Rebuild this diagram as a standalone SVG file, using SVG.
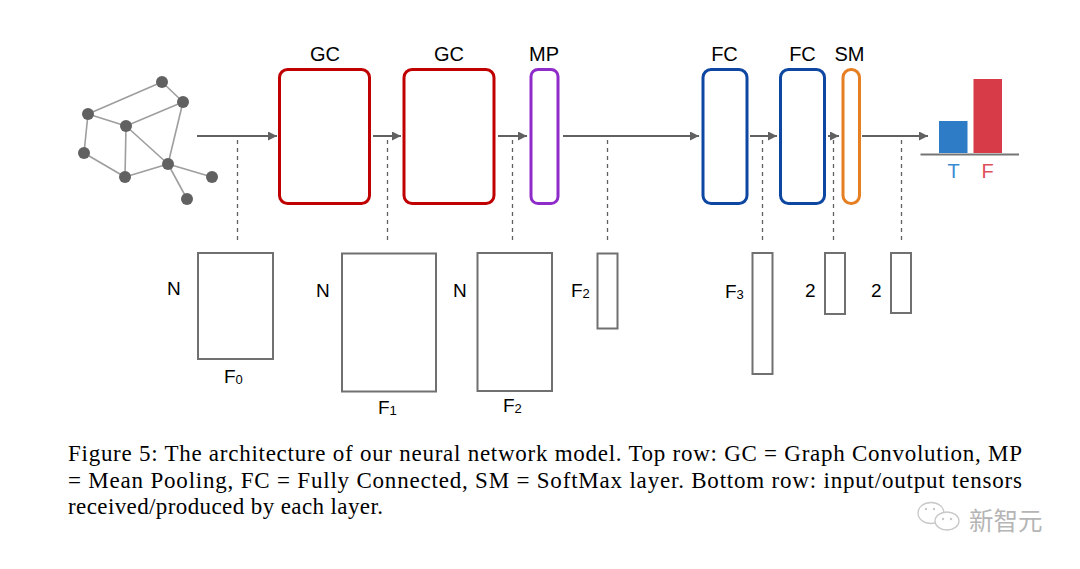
<svg xmlns="http://www.w3.org/2000/svg" width="1080" height="569" viewBox="0 0 1080 569">
<defs>
<marker id="ah" viewBox="0 0 10 10" refX="10" refY="5" markerWidth="9" markerHeight="9" markerUnits="userSpaceOnUse" orient="auto">
<path d="M0,0 L10,5 L0,10 z" fill="#616161"/>
</marker>
<style>
.lbl{font-family:"Liberation Sans",Arial,sans-serif;font-size:20px;fill:#000;text-anchor:middle}
.dim{font-family:"Liberation Sans",Arial,sans-serif;font-size:19px;fill:#000}
.sub{font-size:13px}
.cap{font-family:"Liberation Serif","Times New Roman",serif;font-size:23px;fill:#000}
.flow{stroke:#616161;stroke-width:2;fill:none;marker-end:url(#ah)}
.dash{stroke:#616161;stroke-width:1.3;stroke-dasharray:4,4;fill:none}
.tensor{fill:none;stroke:#707070;stroke-width:2}
.edge{stroke:#9e9e9e;stroke-width:1.6}
.gn{fill:#616161}
.gc{fill:#fff;stroke:#c00000;stroke-width:3}
.mp{fill:#fff;stroke:#8e2bc9;stroke-width:3}
.fc{fill:#fff;stroke:#0d47a1;stroke-width:3}
.sm{fill:#fff;stroke:#e67e22;stroke-width:3}
</style>
</defs>
<rect width="1080" height="569" fill="#fff"/>

<g id="input-graph">
<g class="edge">
<line x1="162" y1="82" x2="88" y2="114"/>
<line x1="162" y1="82" x2="183" y2="102"/>
<line x1="88" y1="114" x2="126" y2="126"/>
<line x1="126" y1="126" x2="183" y2="102"/>
<line x1="88" y1="114" x2="84" y2="153"/>
<line x1="84" y1="153" x2="125" y2="177"/>
<line x1="126" y1="126" x2="125" y2="177"/>
<line x1="126" y1="126" x2="168" y2="164"/>
<line x1="183" y1="102" x2="168" y2="164"/>
<line x1="125" y1="177" x2="168" y2="164"/>
<line x1="168" y1="164" x2="212" y2="177"/>
<line x1="168" y1="164" x2="187" y2="199"/>
</g>
<g class="gn">
<circle cx="162" cy="82" r="6"/>
<circle cx="183" cy="102" r="6"/>
<circle cx="88" cy="114" r="6"/>
<circle cx="126" cy="126" r="6"/>
<circle cx="84" cy="153" r="6"/>
<circle cx="125" cy="177" r="6"/>
<circle cx="168" cy="164" r="6"/>
<circle cx="212" cy="177" r="6"/>
<circle cx="187" cy="199" r="6"/>
</g>
</g>

<g id="connectors">
<line class="flow" x1="197" y1="136" x2="277" y2="136"/>
<line class="flow" x1="373" y1="136" x2="401" y2="136"/>
<line class="flow" x1="498" y1="136" x2="527" y2="136"/>
<line class="flow" x1="563" y1="136" x2="699" y2="136"/>
<line class="flow" x1="750" y1="136" x2="777" y2="136"/>
<line class="flow" x1="828" y1="136" x2="839" y2="136"/>
<line class="flow" x1="862" y1="136" x2="928" y2="136"/>
<line class="dash" x1="237.5" y1="140" x2="237.5" y2="240"/>
<line class="dash" x1="387.5" y1="140" x2="387.5" y2="240"/>
<line class="dash" x1="512.5" y1="140" x2="512.5" y2="240"/>
<line class="dash" x1="607.5" y1="140" x2="607.5" y2="240"/>
<line class="dash" x1="762.5" y1="140" x2="762.5" y2="240"/>
<line class="dash" x1="833.5" y1="140" x2="833.5" y2="240"/>
<line class="dash" x1="901.5" y1="140" x2="901.5" y2="240"/>
</g>

<g id="gc1"><rect class="gc" x="279.5" y="69.5" width="90" height="134" rx="8"/><text class="lbl" x="325" y="61">GC</text></g>
<g id="gc2"><rect class="gc" x="404" y="69.5" width="90" height="134" rx="8"/><text class="lbl" x="449" y="61">GC</text></g>
<g id="mp"><rect class="mp" x="531" y="69.5" width="27" height="134" rx="7"/><text class="lbl" x="544" y="61">MP</text></g>
<g id="fc1"><rect class="fc" x="703" y="69.5" width="44" height="134" rx="8"/><text class="lbl" x="724.5" y="61">FC</text></g>
<g id="fc2"><rect class="fc" x="780.5" y="69.5" width="44" height="134" rx="8"/><text class="lbl" x="802.5" y="61">FC</text></g>
<g id="sm"><rect class="sm" x="843" y="69.5" width="16.5" height="134" rx="8"/><text class="lbl" x="849.5" y="61">SM</text></g>

<g id="output-chart">
<rect x="939" y="121" width="28.5" height="32" fill="#2e7bc6"/>
<rect x="973.5" y="79" width="28.5" height="74" fill="#d63b47"/>
<line x1="920.5" y1="154.5" x2="1019" y2="154.5" stroke="#757575" stroke-width="2"/>
<text class="lbl" x="953.5" y="178" style="fill:#3a8ad6">T</text>
<text class="lbl" x="987.5" y="178" style="fill:#e0505a">F</text>
</g>

<g id="t0"><rect class="tensor" x="198" y="253" width="75" height="106"/><text class="dim" x="167" y="295">N</text><text class="dim" x="224" y="383">F<tspan class="sub" dy="1">0</tspan></text></g>
<g id="t1"><rect class="tensor" x="342" y="253.5" width="94" height="138"/><text class="dim" x="316" y="297">N</text><text class="dim" x="378" y="414">F<tspan class="sub" dy="1">1</tspan></text></g>
<g id="t2"><rect class="tensor" x="477.5" y="253" width="74.5" height="138"/><text class="dim" x="453" y="297">N</text><text class="dim" x="503" y="412">F<tspan class="sub" dy="1">2</tspan></text></g>
<g id="t3"><rect class="tensor" x="597.5" y="253.5" width="20" height="75"/><text class="dim" x="571" y="297">F<tspan class="sub" dy="1">2</tspan></text></g>
<g id="t4"><rect class="tensor" x="752.5" y="253" width="20" height="121"/><text class="dim" x="725" y="298">F<tspan class="sub" dy="1">3</tspan></text></g>
<g id="t5"><rect class="tensor" x="825" y="253" width="20" height="61"/><text class="dim" x="805" y="297">2</text></g>
<g id="t6"><rect class="tensor" x="891" y="253" width="20" height="60"/><text class="dim" x="871" y="297">2</text></g>

<g id="caption">
<text class="cap" x="68" y="461" textLength="954" lengthAdjust="spacing">Figure 5: The architecture of our neural network model. Top row: GC = Graph Convolution, MP</text>
<text class="cap" x="68" y="488" textLength="954" lengthAdjust="spacing">= Mean Pooling, FC = Fully Connected, SM = SoftMax layer. Bottom row: input/output tensors</text>
<text class="cap" x="68" y="514" textLength="315" lengthAdjust="spacing">received/produced by each layer.</text>
</g>

<g id="watermark" fill="none" stroke="#c8c8c8" stroke-width="1.3">
<ellipse cx="931" cy="513" rx="13" ry="10.5"/>
<ellipse cx="947" cy="521" rx="12" ry="9" fill="#fff"/>
<g fill="#c8c8c8" stroke="none">
<circle cx="926" cy="509" r="1.2"/><circle cx="934" cy="509" r="1.2"/>
<circle cx="943" cy="519" r="1.2"/><circle cx="951" cy="519" r="1.2"/>
</g>
<text x="969" y="530" stroke="none" fill="#b5b5b5" style="font-family:'Noto Sans CJK SC',sans-serif;font-size:24.5px">新智元</text>
</g>
</svg>
